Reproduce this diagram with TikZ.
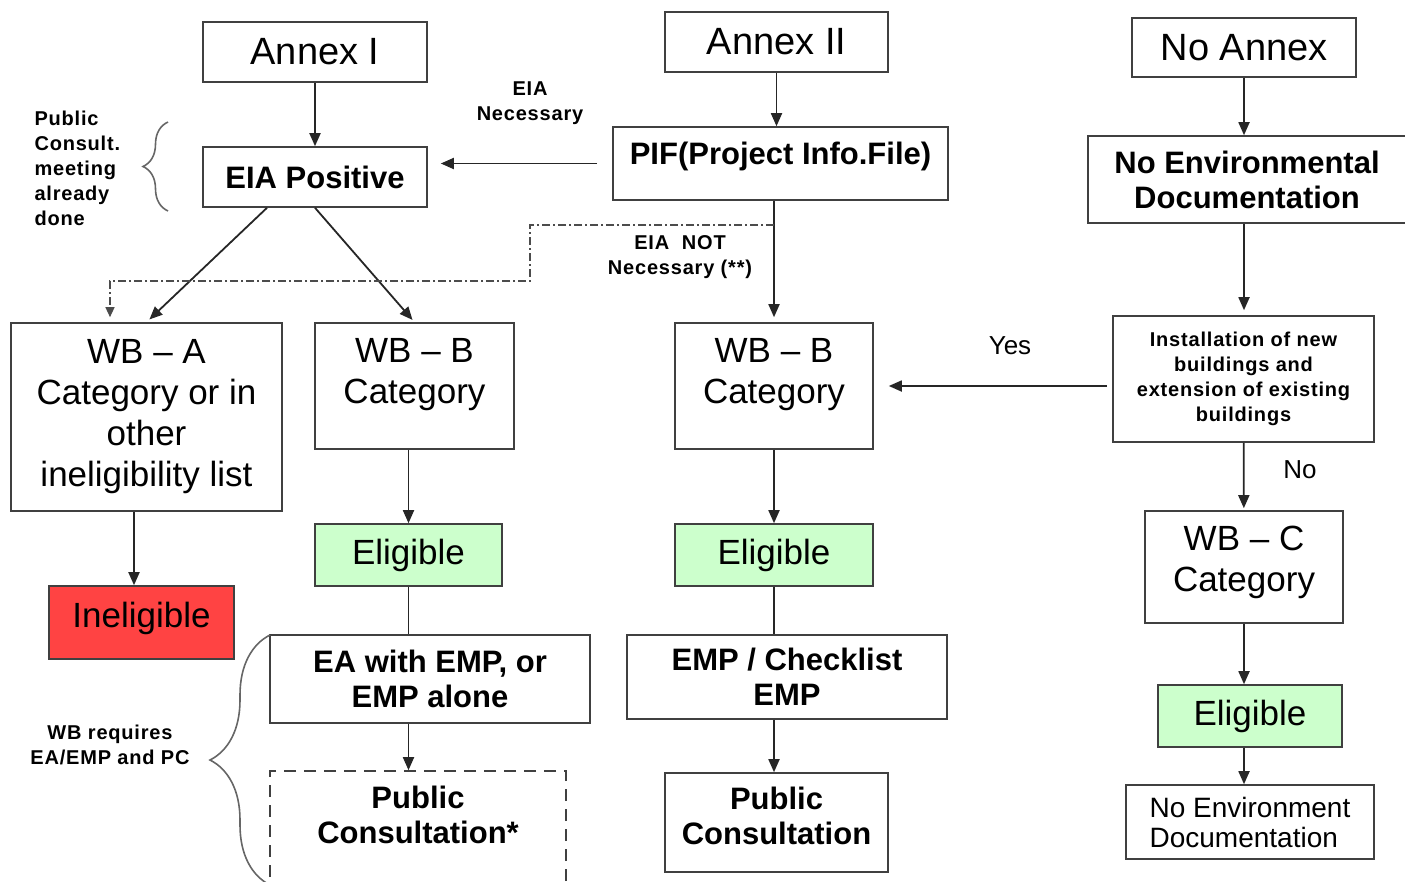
\documentclass[tikz,border=0pt]{standalone}
\usepackage{fontspec}
\setmainfont{Liberation Sans}
\newfontfamily\widefont[LetterSpace=4]{Liberation Sans}
\usetikzlibrary{arrows.meta,positioning,decorations.pathreplacing}
\definecolor{eliggreen}{HTML}{CCFFCC}
\definecolor{ineligred}{HTML}{FF4343}

\begin{document}
\begin{tikzpicture}[x=1pt,y=-1pt,
  boxstyle/.style={draw=black!75,line width=1.6pt,inner sep=2pt,align=center,font=\fontsize{35}{41}\selectfont},
  boldstyle/.style={boxstyle,font=\fontsize{31}{35}\selectfont\bfseries},
  greenstyle/.style={boxstyle,fill=eliggreen},
  smallstyle/.style={align=center,font=\widefont\fontsize{20}{25}\selectfont\bfseries},
  linestyle/.style={draw=black!85,line width=1.8pt},
  arrowstyle/.style={linestyle,-{Triangle[length=13pt,width=11pt]}},
  dotstyle/.style={draw=black!70,line width=1.3pt,dash pattern=on 8pt off 3pt on 2pt off 3pt,-{Triangle[length=10pt,width=9pt]}},
  bracestyle/.style={draw=black!60,line width=1.6pt,decorate}]
\useasboundingbox (0,0) rectangle (1405,881);

\node[boxstyle,font=\fontsize{38}{41}\selectfont,minimum width=224,minimum height=60] (annexone) at (315,52) {Annex I};
\node[boxstyle,font=\fontsize{38}{41}\selectfont,minimum width=223,minimum height=60] (annextwo) at (776.5,42) {Annex II};
\node[boxstyle,font=\fontsize{38}{41}\selectfont,minimum width=224,minimum height=59] (noannex) at (1244,47.5) {No Annex};
\node[boldstyle,minimum width=224,minimum height=60] (eiapos) at (315,177) {EIA Positive};
\node[boldstyle,text depth=20pt,minimum width=335,minimum height=73] (pif) at (780.5,163.5) {PIF(Project Info.File)};
\node[boldstyle,minimum width=318,minimum height=87] (noenv) at (1247,179.5) {No Environmental\\Documentation};
\node[boxstyle,minimum width=271,minimum height=188] (wba) at (146.5,417) {WB – A\\Category or in\\other\\ineligibility list};
\node[boxstyle,text depth=31pt,minimum width=199,minimum height=126] (wbbleft) at (414.5,386) {WB – B\\Category};
\node[boxstyle,text depth=31pt,minimum width=198,minimum height=126] (wbbmid) at (774,386) {WB – B\\Category};
\node[boxstyle,font=\widefont\fontsize{20}{25}\selectfont\bfseries,minimum width=261,minimum height=126] (install) at (1243.5,379)
  {Installation of new\\buildings and\\extension of existing\\buildings};
\node[boxstyle,text depth=17pt,minimum width=198,minimum height=112] (wbc) at (1244,567) {WB – C\\Category};
\node[greenstyle,minimum width=187,minimum height=62] (eligleft) at (408.5,555) {Eligible};
\node[greenstyle,minimum width=198,minimum height=62] (eligmid) at (774,555) {Eligible};
\node[greenstyle,minimum width=184,minimum height=62] (eligright) at (1250,716) {Eligible};
\node[boxstyle,fill=ineligred,text depth=15pt,minimum width=185,minimum height=73] (inelig) at (141.5,622.5) {Ineligible};
\node[boldstyle,minimum width=320,minimum height=88] (eaemp) at (430,679) {EA with EMP, or\\EMP alone};
\node[boldstyle,minimum width=320,minimum height=84] (empcheck) at (787,677) {EMP / Checklist\\EMP};
\node[boldstyle,dashed,dash pattern=on 12pt off 8pt,text depth=26pt,minimum width=296,minimum height=114] (pubcstar) at (418,828) {Public\\Consultation*};
\node[boldstyle,text depth=14pt,minimum width=223,minimum height=99] (pubc) at (776.5,822.5) {Public\\Consultation};
\node[boxstyle,font=\fontsize{28}{30}\selectfont,align=left,minimum width=248,minimum height=74] (noenvdoc) at (1250,822) {No Environment\\Documentation};

\node[smallstyle] (necessary) at (530,103) {EIA\\Necessary};
\node[smallstyle] (notnecessary) at (680,257) {EIA\ \ NOT\\Necessary (**)};
\node[smallstyle,align=left,anchor=west] (consult) at (31,168) {Public\\Consult.\\meeting\\already\\done};
\node[smallstyle] (requires) at (110,745) {WB requires\\EA/EMP and PC};
\node[font=\fontsize{26}{30}\selectfont] (yes) at (1010,346) {Yes};
\node[font=\fontsize{26}{30}\selectfont] (no) at (1300,470) {No};

\draw[arrowstyle] (annexone) -- (eiapos);
\draw[arrowstyle] (annextwo.south) -- (annextwo.south |- pif.north);
\draw[arrowstyle] (noannex.south) -- (noannex.south |- noenv.north);
\draw[arrowstyle,shorten <=15pt,shorten >=13pt] (pif.west) -- (pif.west -| eiapos.east);
\draw[arrowstyle,shorten >=4pt] ([xshift=-48pt]eiapos.south) -- (wba.north);
\draw[arrowstyle,shorten >=3pt] (eiapos.south) -- (wbbleft.north);
\coordinate (split) at (wbbmid.north |- 0,225);
\draw[arrowstyle,shorten >=5pt] (wbbmid.north |- pif.south) -- (wbbmid.north);
\draw[dotstyle,shorten >=5pt] (split) -| (530,281) -| ([xshift=-36.5pt]wba.north);
\draw[arrowstyle,shorten >=5pt] (noenv.south -| noannex.south) -- (noannex.south |- install.north);
\draw[arrowstyle,shorten <=5pt,shorten >=15pt] (install.west |- wbbmid.east) -- (wbbmid.east);
\draw[arrowstyle,shorten >=2pt] (install) -- (wbc);
\draw[arrowstyle] ([xshift=-7.5pt]inelig.north |- wba.south) -- ([xshift=-7.5pt]inelig.north);
\draw[arrowstyle] (wbbleft.south -| eligleft.north) -- (eligleft.north);
\draw[linestyle] (eligleft.south) -- (eligleft.south |- eaemp.north);
\draw[arrowstyle] (eligleft.south |- eaemp.south) -- (eligleft.south |- pubcstar.north);
\draw[arrowstyle] (wbbmid) -- (eligmid);
\draw[linestyle] (eligmid.south) -- (eligmid.south |- empcheck.north);
\draw[arrowstyle] (eligmid.south |- empcheck.south) -- (eligmid.south |- pubc.north);
\draw[arrowstyle] (wbc.south) -- (wbc.south |- eligright.north);
\draw[arrowstyle] (wbc.south |- eligright.south) -- (wbc.south |- noenvdoc.north);

\draw[bracestyle,decoration={brace,amplitude=25pt}] (168,211) -- (168,122);
\draw[bracestyle,decoration={brace,amplitude=60pt}] (270,885) -- (270,635);
\end{tikzpicture}
\end{document}
